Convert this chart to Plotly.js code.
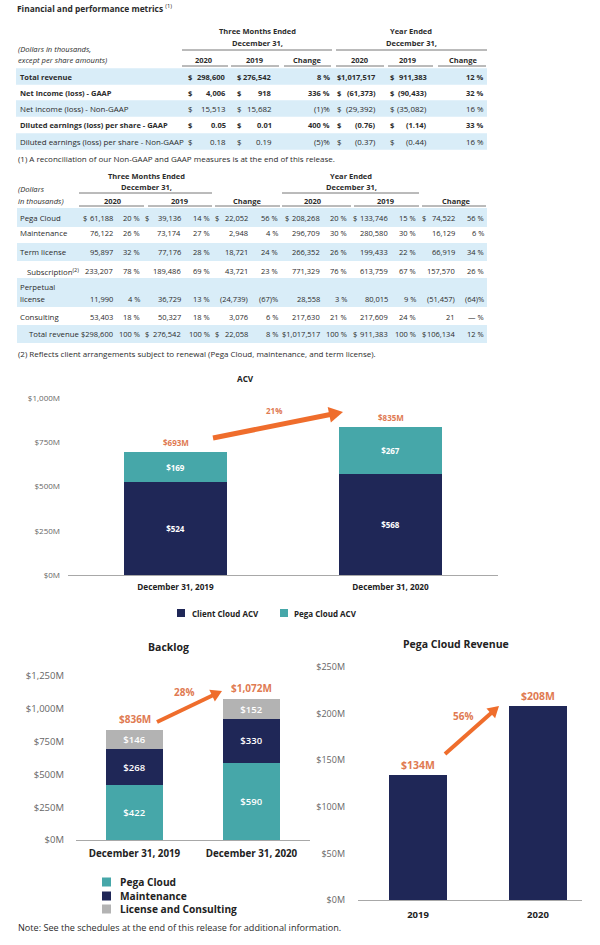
<!DOCTYPE html>
<html><head><meta charset="utf-8">
<script src="https://cdn.plot.ly/plotly-3.0.1.min.js"></script>
<style>html,body{margin:0;padding:0;background:#fff}#chart{width:600px;height:945px}</style>
</head><body><div id="chart"></div>
<script>
// ================= DATA =================
// Table 1: Financial and performance metrics
const t1Labels = ['Total revenue','Net income (loss) - GAAP','Net income (loss) - Non-GAAP','Diluted earnings (loss) per share - GAAP','Diluted earnings (loss) per share - Non-GAAP'];
const t1Bold = [true,true,false,true,false];
const t1Q2020 = ['298,600','4,006','15,513','0.05','0.18'];
const t1Q2019 = ['276,542','918','15,682','0.01','0.19'];
const t1QChg  = ['8 %','336 %','(1)%','400 %','(5)%'];
const t1Y2020 = ['1,017,517','(61,373)','(29,392)','(0.76)','(0.37)'];
const t1Y2019 = ['911,383','(90,433)','(35,082)','(1.14)','(0.44)'];
const t1YChg  = ['12 %','32 %','16 %','33 %','16 %'];

// Table 2: revenue breakdown
const t2Labels = ['Pega Cloud','Maintenance','Term license','Subscription<sup>(2)</sup>','Perpetual<br>license','Consulting','Total revenue'];
const t2Dollar = [true,false,false,false,false,false,true];
const t2Q2020 = ['61,188','76,122','95,897','233,207','11,990','53,403','298,600'];
const t2Q2020p = ['20 %','26 %','32 %','78 %','4 %','18 %','100 %'];
const t2Q2019 = ['39,136','73,174','77,176','189,486','36,729','50,327','276,542'];
const t2Q2019p = ['14 %','27 %','28 %','69 %','13 %','18 %','100 %'];
const t2QChg = ['22,052','2,948','18,721','43,721','(24,739)','3,076','22,058'];
const t2QChgp = ['56 %','4 %','24 %','23 %','(67)%','6 %','8 %'];
const t2Y2020 = ['208,268','296,709','266,352','771,329','28,558','217,630','1,017,517'];
const t2Y2020p = ['20 %','30 %','26 %','76 %','3 %','21 %','100 %'];
const t2Y2019 = ['133,746','280,580','199,433','613,759','80,015','217,609','911,383'];
const t2Y2019p = ['15 %','30 %','22 %','67 %','9 %','24 %','100 %'];
const t2YChg = ['74,522','16,129','66,919','157,570','(51,457)','21','106,134'];
const t2YChgp = ['56 %','6 %','34 %','26 %','(64)%','— %','12 %'];

// ACV chart ($M)
const acvCats = ['December 31, 2019','December 31, 2020'];
const acvClient = [524, 568];
const acvPega = [169, 267];
const acvGrowth = '21%';

// Backlog chart ($M)
const blCats = ['December 31, 2019','December 31, 2020'];
const blPega = [422, 590];
const blMaint = [268, 330];
const blLic = [146, 152];
const blGrowth = '28%';

// Pega Cloud Revenue ($M)
const pcCats = ['2019','2020'];
const pcRev = [134, 208];
const pcGrowth = '56%';

// ================= STYLE / LAYOUT =================
const FONT = '"Open Sans", sans-serif';
const NAVY = '#1f2757', TEAL = '#46a7a9', GRAY = '#b3b3b3';
const ORANGE_TXT = '#e07a52', ORANGE_ARROW = '#ef6d2c';
const BAND = '#d9edf8', TXT = '#2b2b2b', TICK = '#666666';

const ann = [], shp = [];
const X = px => px/600, Y = py => 1 - py/945;
function T(x, y, text, o = {}) {
  ann.push({xref:'paper', yref:'paper', x:X(x), y:Y(y), text, showarrow:false,
    xanchor:o.a || 'left', yanchor:'middle', align:o.a || 'left', borderpad:0,
    font:{family:FONT, size:o.s || 8, color:o.c || TXT}});
}
function L(x0, x1, y, c, w) {
  shp.push({type:'line', xref:'paper', yref:'paper', x0:X(x0), x1:X(x1), y0:Y(y), y1:Y(y),
    line:{color:c || '#777', width:w || 1}, layer:'below'});
}
function R(x0, x1, y0, y1, c) {
  shp.push({type:'rect', xref:'paper', yref:'paper', x0:X(x0), x1:X(x1), y0:Y(y0), y1:Y(y1),
    fillcolor:c, line:{width:0}, layer:'below'});
}
function ARROW(x0, y0, x1, y1, w, hl, hw) {
  const dx = x1 - x0, dy = y1 - y0, len = Math.hypot(dx, dy);
  const ux = dx/len, uy = dy/len, nx = -uy, ny = ux;
  const bx = x1 - ux*hl, by = y1 - uy*hl;
  shp.push({type:'line', xref:'paper', yref:'paper', x0:X(x0), y0:Y(y0), x1:X(bx + ux), y1:Y(by + uy),
    line:{color:ORANGE_ARROW, width:w}});
  const p = (x, y) => X(x).toFixed(5) + ',' + Y(y).toFixed(5);
  shp.push({type:'path', xref:'paper', yref:'paper',
    path:'M' + p(x1, y1) + ' L' + p(bx + nx*hw, by + ny*hw) + ' L' + p(bx - nx*hw, by - ny*hw) + ' Z',
    fillcolor:ORANGE_ARROW, line:{width:0}});
}
const B = s => '<b>' + s + '</b>';

// ---- Table 1 ----
T(16, 8, B('Financial and performance metrics') + ' <sup>(1)</sup>', {s:8.4});
T(257, 31, B('Three Months Ended'), {a:'center', s:7.5});
T(257, 43, B('December 31,'), {a:'center', s:7.5});
T(411, 31, B('Year Ended'), {a:'center', s:7.5});
T(411, 43, B('December 31,'), {a:'center', s:7.5});
L(182, 332, 50); L(336, 487, 50);
T(17, 49, '<i>(Dollars in thousands,</i>', {s:7.6});
T(17, 60, '<i>except per share amounts)</i>', {s:7.6});
[[204,'2020'],[255,'2019'],[307,'Change'],[360,'2020'],[408,'2019'],[463,'Change']].forEach(([x,t]) => T(x, 60, B(t), {a:'center', s:7.5}));
[[182,228],[231,279],[284,331],[336,384],[388,433],[438,486]].forEach(([a,b]) => L(a, b, 66));
const t1Y = [76.5, 92.5, 108.5, 125, 141.5];
t1Labels.forEach((lab, i) => {
  const y = t1Y[i], bold = t1Bold[i], f = s => bold ? B(s) : s, o = a => ({a, s: bold ? 7.5 : 7.9});
  if (i % 2 === 0) R(16, 487, y - 8.3, y + 8.3, BAND);
  T(19, y, f(lab), o('left'));
  [187, 236, 336, 389].forEach(x => T(x, y, f('$'), o('left')));
  T(227, y, f(t1Q2020[i]), o('right'));
  T(273, y, f(t1Q2019[i]), o('right'));
  T(331, y, f(t1QChg[i]), o('right'));
  T(377, y, f(t1Y2020[i]), o('right'));
  T(428, y, f(t1Y2019[i]), o('right'));
  T(485, y, f(t1YChg[i]), o('right'));
});
T(17, 158, '(1) A reconciliation of our Non-GAAP and GAAP measures is at the end of this release.');

// ---- Table 2 ----
const S2 = 7.8, SV = 7.5;
T(146, 176, B('Three Months Ended'), {a:'center', s:7.5});
T(146, 187, B('December 31,'), {a:'center', s:7.5});
T(351, 176, B('Year Ended'), {a:'center', s:7.5});
T(351, 187, B('December 31,'), {a:'center', s:7.5});
L(79, 212, 193); L(282, 419, 193);
T(17, 189, '<i>(Dollars</i>', {s:7.6});
T(17, 201, '<i>in thousands)</i>', {s:7.6});
[[113,'2020'],[180,'2019'],[247,'Change'],[313,'2020'],[386,'2019'],[456,'Change']].forEach(([x,t]) => T(x, 201, B(t), {a:'center', s:7.5}));
[[79,144],[148,212],[215,280],[282,351],[354,419],[422,486]].forEach(([a,b]) => L(a, b, 206));
const t2Y = [218, 233, 252, 271, 299, 317, 334];
const t2Band = [[208,227],null,[243,261],null,[278,307],null,[325,343]];
const t2LabX = [19, 19, 19, 26, 19, 19, 28];
const t2Cols = [
  [82, 114, t2Q2020, 141, t2Q2020p],
  [144, 182, t2Q2019, 211, t2Q2019p],
  [214, 249, t2QChg, 279, t2QChgp],
  [284, 321, t2Y2020, 348, t2Y2020p],
  [352, 389, t2Y2019, 417, t2Y2019p],
  [421, 456, t2YChg, 485, t2YChgp]
];
const estW = s => { let w = 0; for (const ch of s) w += /[0-9]/.test(ch) ? 4.5 : (ch === ',' ? 2.1 : 2.6); return w * SV / 8; };
t2Labels.forEach((lab, i) => {
  const y = t2Y[i];
  if (t2Band[i]) R(17, 487, t2Band[i][0], t2Band[i][1], BAND);
  if (i === 4) { T(19, 287, 'Perpetual', {s:S2}); T(19, 299, 'license', {s:S2}); }
  else T(t2LabX[i], y, lab, {s:S2});
  t2Cols.forEach(([dx, vx, vals, px, pcts]) => {
    let v = vals[i];
    if (t2Dollar[i]) {
      if (estW(v) + 6.5 > vx - dx) v = '$' + v;   // too tight: draw the $ attached
      else T(dx, y, '$', {s:SV});
    }
    T(vx, y, v, {a:'right', s:SV});
    T(px, y, pcts[i], {a:'right', s:SV});
  });
});
T(17, 353, '(2) Reflects client arrangements subject to renewal (Pega Cloud, maintenance, and term license).');

// ---- Chart titles, legends, note ----
T(246, 378, B('ACV'), {a:'center', s:8.2, c:'#222'});
T(168, 647, B('Backlog'), {a:'center', s:10.5, c:'#222'});
T(456, 644, B('Pega Cloud Revenue'), {a:'center', s:10.5, c:'#222'});
T(17, 927, 'Note: See the schedules at the end of this release for additional information.', {s:9.1});

function legendItem(x, y, color, name, size, sq, gap) {
  R(x, x + sq, y - sq/2, y + sq/2, color);
  T(x + sq + gap, y, B(name), {s:size, c:'#222'});
}
legendItem(177, 613, NAVY, 'Client Cloud ACV', 8, 8, 6);
legendItem(280, 613, TEAL, 'Pega Cloud ACV', 8, 8, 5);
legendItem(102, 882, TEAL, 'Pega Cloud', 10.2, 9, 8);
legendItem(102, 896, NAVY, 'Maintenance', 10.2, 9, 8);
legendItem(102, 909, GRAY, 'License and Consulting', 10.2, 9, 8);

// ---- Data-anchored labels and growth arrows ----
const money = v => '$' + v.toLocaleString('en-US') + 'M';
function topLabel(xa, ya, x, y, text, size, shift) {
  ann.push({xref:xa, yref:ya, x, y, text:B(text), showarrow:false, yanchor:'bottom', yshift:shift,
    font:{family:FONT, size, color:ORANGE_TXT}});
}
function pctLabel(xa, ya, x, y, text, size) {
  ann.push({xref:xa, yref:ya, x, y, text:B(text), showarrow:false, yanchor:'middle',
    font:{family:FONT, size, color:ORANGE_TXT}});
}
acvCats.forEach((c, i) => topLabel('x', 'y', i, acvClient[i] + acvPega[i], money(acvClient[i] + acvPega[i]), 8, 2));
ARROW(213, 438, 343, 412, 5, 14, 8);
pctLabel('x', 'y', 0.458, 927, acvGrowth, 8);

blCats.forEach((c, i) => topLabel('x2', 'y2', i, blPega[i] + blMaint[i] + blLic[i], money(blPega[i] + blMaint[i] + blLic[i]), 10, 2));
ARROW(157, 722, 222, 691, 4, 11, 6.5);
pctLabel('x2', 'y2', 0.423, 1128, blGrowth, 10);

pcCats.forEach((c, i) => topLabel('x3', 'y3', i, pcRev[i], money(pcRev[i]), 10.5, 1));
ARROW(445, 754, 499, 706, 4, 11, 6.5);
pctLabel('x3', 'y3', 0.375, 197, pcGrowth, 10);

// ================= TRACES =================
const inside = (size, weight) => ({textposition:'inside', insidetextanchor:'middle', constraintext:'none',
  textfont:{family:FONT, size, color:'#ffffff', weight}, hoverinfo:'skip', showlegend:false});
const lbl = arr => arr.map(v => '$' + v);
const data = [
  Object.assign({type:'bar', name:'Client Cloud ACV', x:acvCats, y:acvClient, xaxis:'x', yaxis:'y', marker:{color:NAVY}, text:lbl(acvClient)}, inside(8, 700)),
  Object.assign({type:'bar', name:'Pega Cloud ACV', x:acvCats, y:acvPega, xaxis:'x', yaxis:'y', marker:{color:TEAL}, text:lbl(acvPega)}, inside(8, 700)),
  Object.assign({type:'bar', name:'Pega Cloud', x:blCats, y:blPega, xaxis:'x2', yaxis:'y2', marker:{color:TEAL}, text:lbl(blPega)}, inside(9.5, 600)),
  Object.assign({type:'bar', name:'Maintenance', x:blCats, y:blMaint, xaxis:'x2', yaxis:'y2', marker:{color:NAVY}, text:lbl(blMaint)}, inside(9.5, 600)),
  Object.assign({type:'bar', name:'License and Consulting', x:blCats, y:blLic, xaxis:'x2', yaxis:'y2', marker:{color:GRAY}, text:lbl(blLic)}, inside(9.5, 600)),
  {type:'bar', name:'Pega Cloud Revenue', x:pcCats, y:pcRev, xaxis:'x3', yaxis:'y3', marker:{color:NAVY}, hoverinfo:'skip', showlegend:false}
];

const xax = (domain, range, size, standoff) => ({domain, range, type:'category',
  showline:true, linecolor:'#a8a8a8', linewidth:1, ticks:'', showgrid:false, zeroline:false,
  ticklabelstandoff:standoff, tickfont:{family:FONT, size, color:'#222', weight:700}});
const yax = (domain, range, dtick, size, standoff) => ({domain, range, tick0:0, dtick,
  tickprefix:'$', ticksuffix:'M', tickformat:',d', showgrid:false, zeroline:false, showline:false,
  ticks:'', ticklabelstandoff:standoff, tickfont:{family:FONT, size, color:TICK}});

const layout = {
  width:600, height:945, margin:{l:0, r:0, t:0, b:0, pad:0},
  paper_bgcolor:'#fff', plot_bgcolor:'#fff', showlegend:false,
  barmode:'stack', bargap:0.518,
  font:{family:FONT, color:TXT},
  xaxis: Object.assign(xax([68/600, 498/600], [-0.5, 1.5], 8.2, 4), {anchor:'y'}),
  yaxis: Object.assign(yax([1 - 575/945, 1 - 398/945], [0, 1000], 250, 8, 7), {anchor:'x'}),
  xaxis2: Object.assign(xax([76/600, 310/600], [-0.5, 1.5], 9.8, 4), {anchor:'y2'}),
  yaxis2: Object.assign(yax([1 - 840/945, 1 - 676/945], [0, 1250], 250, 9.5, 11), {anchor:'x2'}),
  xaxis3: Object.assign(xax([358/600, 582/600], [-0.5, 1.367], 9.5, 6), {anchor:'y3'}),
  yaxis3: Object.assign(yax([1 - 900/945, 1 - 667/945], [0, 250], 50, 9, 12), {anchor:'x3'}),
  annotations: ann,
  shapes: shp
};

Plotly.newPlot('chart', data, layout, {displayModeBar:false, staticPlot:true});
</script></body></html>
